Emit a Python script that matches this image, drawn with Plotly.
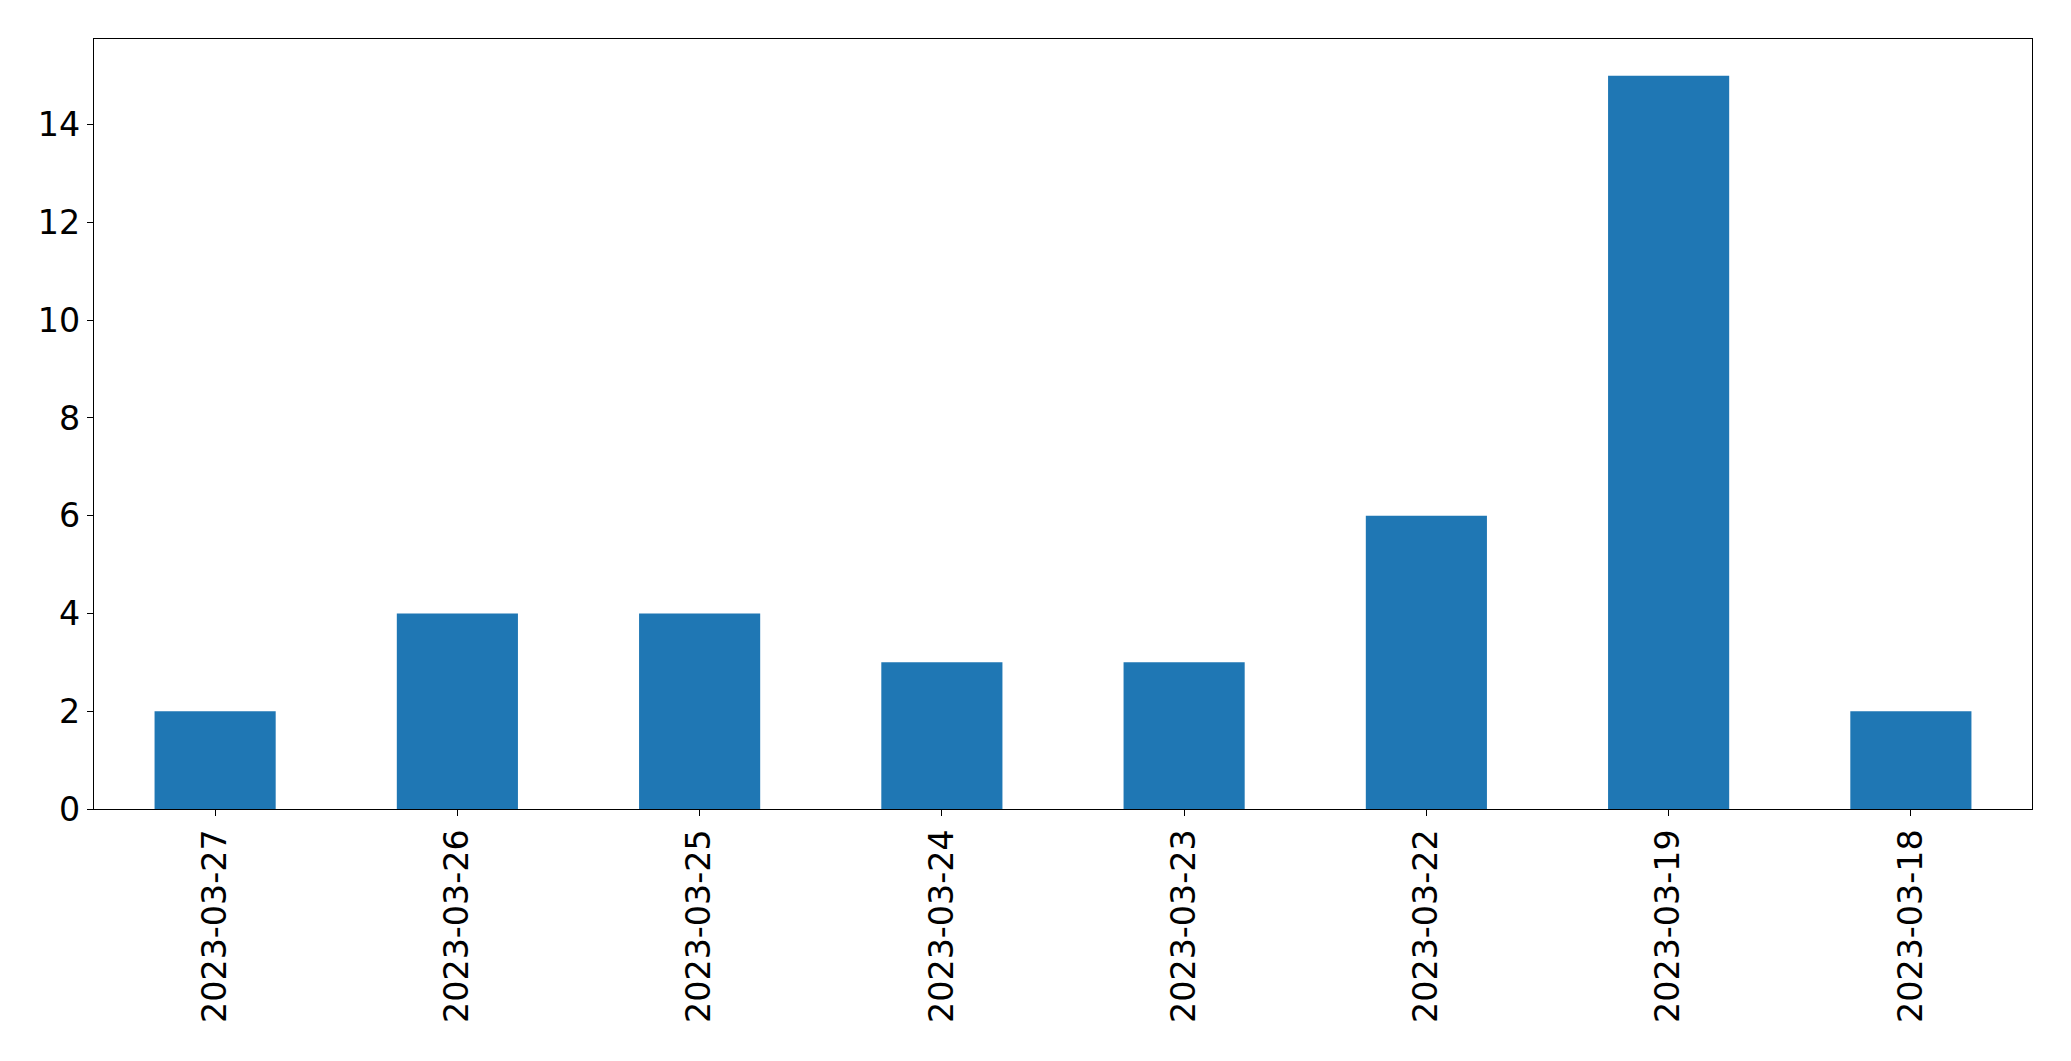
import plotly.graph_objects as go

categories = ["2023-03-27", "2023-03-26", "2023-03-25", "2023-03-24",
              "2023-03-23", "2023-03-22", "2023-03-19", "2023-03-18"]
values = [2, 4, 4, 3, 3, 6, 15, 2]
y_ticks = [0, 2, 4, 6, 8, 10, 12, 14]

fig = go.Figure(go.Bar(
    x=list(range(len(categories))), y=values,
    width=0.5, marker=dict(color="#1f77b4", line=dict(width=0)),
))

font = dict(family="DejaVu Sans", size=33.3, color="black")
# page body has an 8px margin: figure starts at (8, 8)
fig.update_layout(
    width=2063, height=1053,
    margin=dict(l=86, r=39, t=31, b=252, pad=0),
    paper_bgcolor="white", plot_bgcolor="white",
    showlegend=False, font=font,
    xaxis=dict(
        range=[-0.5, len(categories) - 0.5],
        tickmode="array", tickvals=list(range(len(categories))), ticktext=categories,
        tickangle=-90, ticks="outside", ticklen=6, tickwidth=1.2, tickcolor="black",
        showline=True, linecolor="black", linewidth=1.2, mirror=True,
        showgrid=False, zeroline=False, tickfont=font, automargin=False,
    ),
    yaxis=dict(
        range=[0, 15.75],
        tickmode="array", tickvals=y_ticks, ticktext=[str(t) for t in y_ticks],
        ticks="outside", ticklen=6, tickwidth=1.2, tickcolor="black",
        showline=True, linecolor="black", linewidth=1.2, mirror=True,
        showgrid=False, zeroline=False, tickfont=font, automargin=False,
    ),
)

fig.write_html("out.html")
